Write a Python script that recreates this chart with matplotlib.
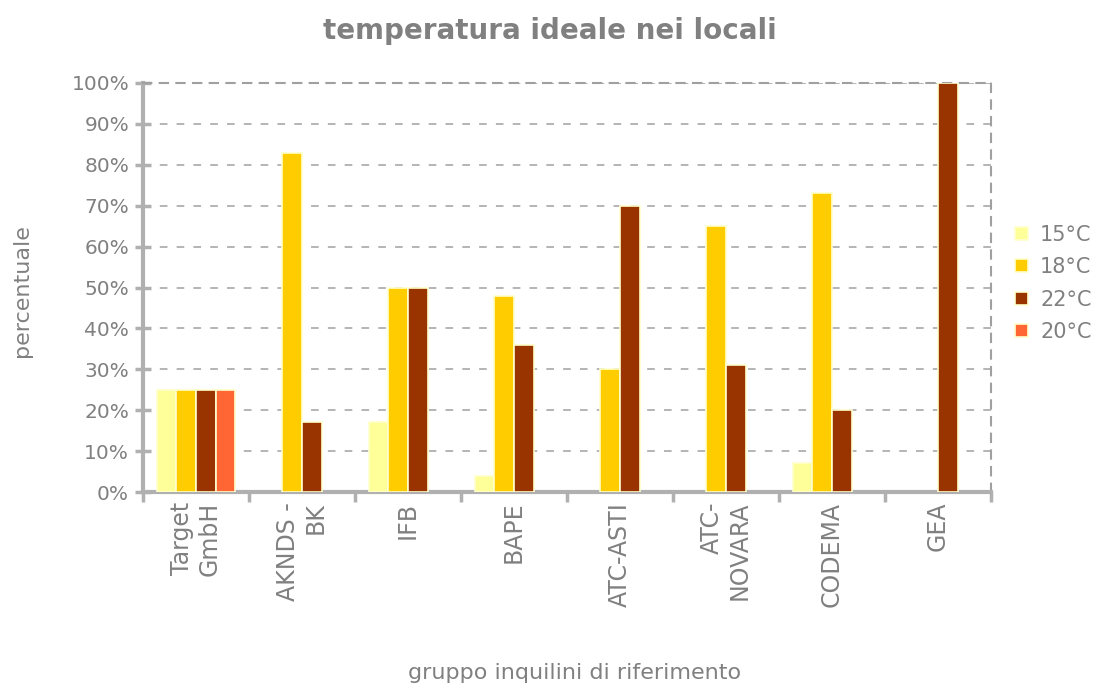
import numpy as np
import matplotlib
matplotlib.use("Agg")
import matplotlib.pyplot as plt

matplotlib.rcParams['font.family'] = 'DejaVu Sans'

# data
groups = ["Target\nGmbH", "AKNDS -\nBK", "IFB", "BAPE", "ATC-ASTI",
          "ATC-\nNOVARA", "CODEMA", "GEA"]
series = ["15°C", "18°C", "22°C", "20°C"]
v15 = [25, 0, 17, 4, 0, 0, 7, 0]
v18 = [25, 83, 50, 48, 30, 65, 73, 0]
v22 = [25, 17, 50, 36, 70, 31, 20, 100]
v20 = [25, 0, 0, 0, 0, 0, 0, 0]
colors = ["#FFFF99", "#FFCC00", "#993300", "#FF6633"]

GREY = "#808080"
fig = plt.figure(figsize=(10.95, 6.83), dpi=100)
ax = fig.add_axes([0.1306, 0.2796, 0.905 - 0.1306, 0.8785 - 0.2796])

x = np.arange(len(groups))
w = 0.185
for i, (lab, vals, c) in enumerate(zip(series, [v15, v18, v22, v20], colors)):
    lw = [1.2 if v > 0 else 0 for v in vals]
    ax.bar(x + (i - 1.5) * w, vals, width=w, color=c, edgecolor="#FFFFCC",
           linewidth=lw, label=lab, zorder=3)

ax.set_xlim(-0.5, len(groups) - 0.5)
ax.set_ylim(0, 100)
ax.set_yticks(np.arange(0, 101, 10))
ax.set_yticklabels([f"{t}%" for t in range(0, 101, 10)])
ax.yaxis.grid(True, linestyle=(0, (5, 6)), color="#A0A0A0", linewidth=1.1, zorder=0)

# x ticks at group boundaries, labels at centres
ax.set_xticks(np.arange(-0.5, len(groups) + 0.5, 1))
ax.set_xticklabels([])
ax.set_xticks(x, minor=True)
ax.set_xticklabels(groups, minor=True, rotation=90, va="top", ha="center",
                   multialignment="right")
ax.tick_params(axis="x", which="minor", length=0, pad=7, labelsize=17, labelcolor=GREY)
ax.tick_params(axis="x", which="major", length=7, width=2.5, color="#B0B0B0")
ax.tick_params(axis="y", direction="inout", length=12, width=2.5, color="#B0B0B0",
               labelsize=14.5, labelcolor=GREY, pad=4)

for s in ["left", "bottom"]:
    ax.spines[s].set_color("#B0B0B0")
    ax.spines[s].set_linewidth(3)
for s in ["top", "right"]:
    ax.spines[s].set_color("#A0A0A0")
    ax.spines[s].set_linewidth(1.5)
    ax.spines[s].set_linestyle((0, (4, 4)))

fig.text(0.502, 0.955, "temperatura ideale nei locali", ha="center", va="center",
         fontsize=20, fontweight="bold", color=GREY)
fig.text(0.525, 0.015, "gruppo inquilini di riferimento", ha="center", va="center",
         fontsize=16, color=GREY)
fig.text(0.02, 0.575, "percentuale", ha="center", va="center", rotation=90,
         fontsize=16, color=GREY)

leg = fig.legend(loc="center left", bbox_to_anchor=(0.927, 0.585), frameon=False,
                 fontsize=15, labelcolor=GREY, handlelength=0.6, handleheight=0.6,
                 handletextpad=0.6, labelspacing=0.6, borderpad=0,
                 borderaxespad=0)

fig.savefig("out.png", dpi=100)
